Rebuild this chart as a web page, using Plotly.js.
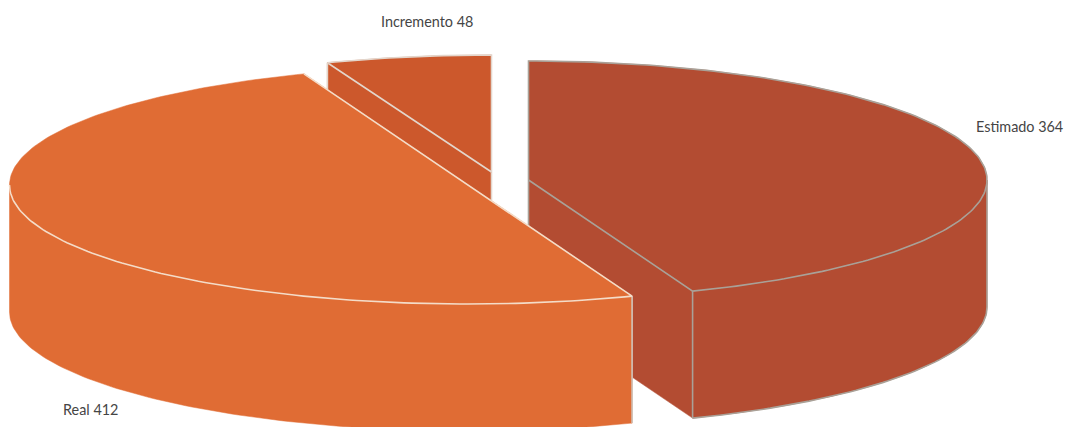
<!DOCTYPE html>
<html>
<head>
<meta charset="utf-8">
<script src="https://cdn.plot.ly/plotly-3.0.1.min.js"></script>
<style>html,body{margin:0;padding:0;background:#fff}#chart{width:1066px;height:427px}</style>
</head>
<body>
<div id="chart"></div>
<script>
var categories = ['Estimado', 'Real', 'Incremento'];
var values = [364, 412, 48];
var fillColors = ['#b34c32', '#e06c34', '#cc582c'];
var edgeColors = ['#a9a198', '#f4dcc8', '#e3d6cc'];
var sideEdgeColors = ['#a9a198', '#cfc6be', '#e3d6cc'];
var backRimEdge = [true, false, true];
var centers = [[528.5, 180], [468, 185], [491.5, 172]];
var radiiY = [119, 119, 117];
var labelPositions = [[1019.5, 126], [90, 409], [426.5, 21]];
var radiusX = 458.5;
var depth = 127;
var drawOrder = [2, 0, 1];

var total = values.reduce(function (a, b) { return a + b; }, 0);
var starts = [], acc = 0;
values.forEach(function (v) { starts.push(acc / total * 360); acc += v; });

function point(i, deg, dz) {
  var r = deg * Math.PI / 180;
  return [centers[i][0] + radiusX * Math.sin(r), centers[i][1] - radiiY[i] * Math.cos(r) + dz];
}
function arc(i, a0, a1, dz) {
  var pts = [], n = Math.max(2, Math.ceil(Math.abs(a1 - a0)));
  for (var k = 0; k <= n; k++) pts.push(point(i, a0 + (a1 - a0) * k / n, dz));
  return pts;
}
function poly(pts, fill, line, closed) {
  var p = closed ? pts.concat([pts[0]]) : pts;
  return {
    type: 'scatter', mode: 'lines', hoverinfo: 'skip', showlegend: false,
    x: p.map(function (q) { return q[0]; }),
    y: p.map(function (q) { return q[1]; }),
    fill: fill ? 'toself' : 'none',
    fillcolor: fill || undefined,
    line: { color: line || fill, width: line ? 1.6 : 0.5 }
  };
}

var traces = [];
drawOrder.forEach(function (i) {
  var a0 = starts[i], a1 = a0 + values[i] / total * 360;
  var fill = fillColors[i], edge = edgeColors[i];
  var c = [centers[i][0], centers[i][1]];
  var cLow = [c[0], c[1] + depth];
  // Cut faces (behind the top and the rim wall)
  [a0, a1].forEach(function (a) {
    traces.push(poly([c, point(i, a, 0), point(i, a, depth), cLow], fill, null, true));
  });
  // Vertical edge at the slice centre
  traces.push(poly([c, cLow], null, sideEdgeColors[i], false));
  // Outer wall: only the part of the rim facing the viewer
  var w0 = Math.max(a0, 90), w1 = Math.min(a1, 270);
  if (w1 > w0) {
    traces.push(poly(arc(i, w0, w1, 0).concat(arc(i, w1, w0, depth)), fill, null, true));
    if (backRimEdge[i]) traces.push(poly(arc(i, w0, w1, depth), null, edge, false));
    [w0, w1].forEach(function (a) {
      if (a === 270) return;
      traces.push(poly([point(i, a, 0), point(i, a, depth)], null, sideEdgeColors[i], false));
    });
  }
  // Cut-side wall edge for a slice whose cut lies in the back half
  if (a0 >= 270) {
    traces.push(poly([point(i, a0, 0), point(i, a0, depth)], null, sideEdgeColors[i], false));
  }
  // Top face
  var rim = arc(i, a0, a1, 0);
  traces.push(poly([c].concat(rim), fill, null, true));
  if (backRimEdge[i]) {
    traces.push(poly([c].concat(rim, [c]), null, edge, false));
  } else {
    traces.push(poly([point(i, a1, 0), c, point(i, a0, 0)].concat(arc(i, a0, 270, 0)), null, edge, false));
  }
});

var annotations = categories.map(function (name, i) {
  return {
    x: labelPositions[i][0], y: labelPositions[i][1], xref: 'x', yref: 'y',
    text: name + ' ' + values[i], showarrow: false,
    font: { family: 'Lato, "Noto Sans", sans-serif', size: 14.4, color: '#454545' }
  };
});

var hidden = { visible: false, fixedrange: true };
Plotly.newPlot('chart', traces, {
  width: 1066, height: 427,
  margin: { l: 0, r: 0, t: 0, b: 0 },
  paper_bgcolor: '#ffffff', plot_bgcolor: '#ffffff',
  xaxis: Object.assign({ range: [0, 1066] }, hidden),
  yaxis: Object.assign({ range: [427, 0] }, hidden),
  annotations: annotations,
  showlegend: false
}, { displayModeBar: false, staticPlot: true });
</script>
</body>
</html>
